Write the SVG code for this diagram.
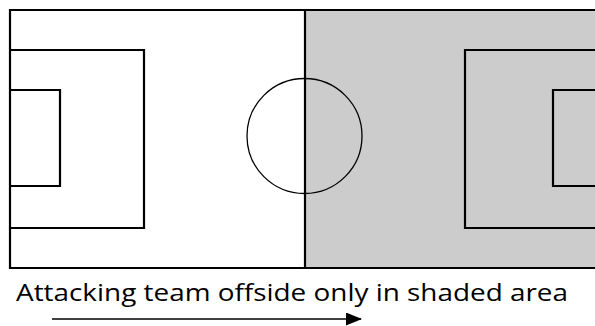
<svg xmlns="http://www.w3.org/2000/svg" width="595" height="326" viewBox="0 0 595 326">
<style>
.l{fill:none;stroke:#000;stroke-width:2.2}
.t{font-family:"Open Sans","Liberation Sans",sans-serif;font-size:24.5px;fill:#000}
</style>
<defs>
<marker id="ah" markerWidth="16" markerHeight="13" refX="15" refY="6.5" orient="auto" markerUnits="userSpaceOnUse" viewBox="0 0 16 13">
<path d="M0,0 L16,6.5 L0,13 Z" fill="#000"/>
</marker>
</defs>
<g id="shaded-half"><rect x="305" y="10" width="290" height="258" fill="#cccccc"/></g>
<g id="pitch-outline"><path class="l" d="M596,10 H10 V268 H596"/></g>
<g id="left-penalty-box"><path class="l" d="M10,50 H144 V228 H10"/></g>
<g id="left-goal-box"><path class="l" d="M10,90 H60 V186 H10"/></g>
<g id="right-penalty-box"><path class="l" d="M596,50 H465 V228 H596"/></g>
<g id="right-goal-box"><path class="l" d="M596,90 H553 V186 H596"/></g>
<g id="center-circle"><circle cx="304.5" cy="136" r="57.5" fill="none" stroke="#000" stroke-width="1.3"/></g>
<g id="halfway-line"><line x1="305" y1="10" x2="305" y2="268" stroke="#000" stroke-width="2.2"/></g>
<g id="caption"><text class="t" x="16" y="301" textLength="552" lengthAdjust="spacingAndGlyphs">Attacking team offside only in shaded area</text></g>
<g id="connectors"><line x1="52" y1="319" x2="361" y2="319" stroke="#000" stroke-width="1.6" marker-end="url(#ah)"/></g>
</svg>
